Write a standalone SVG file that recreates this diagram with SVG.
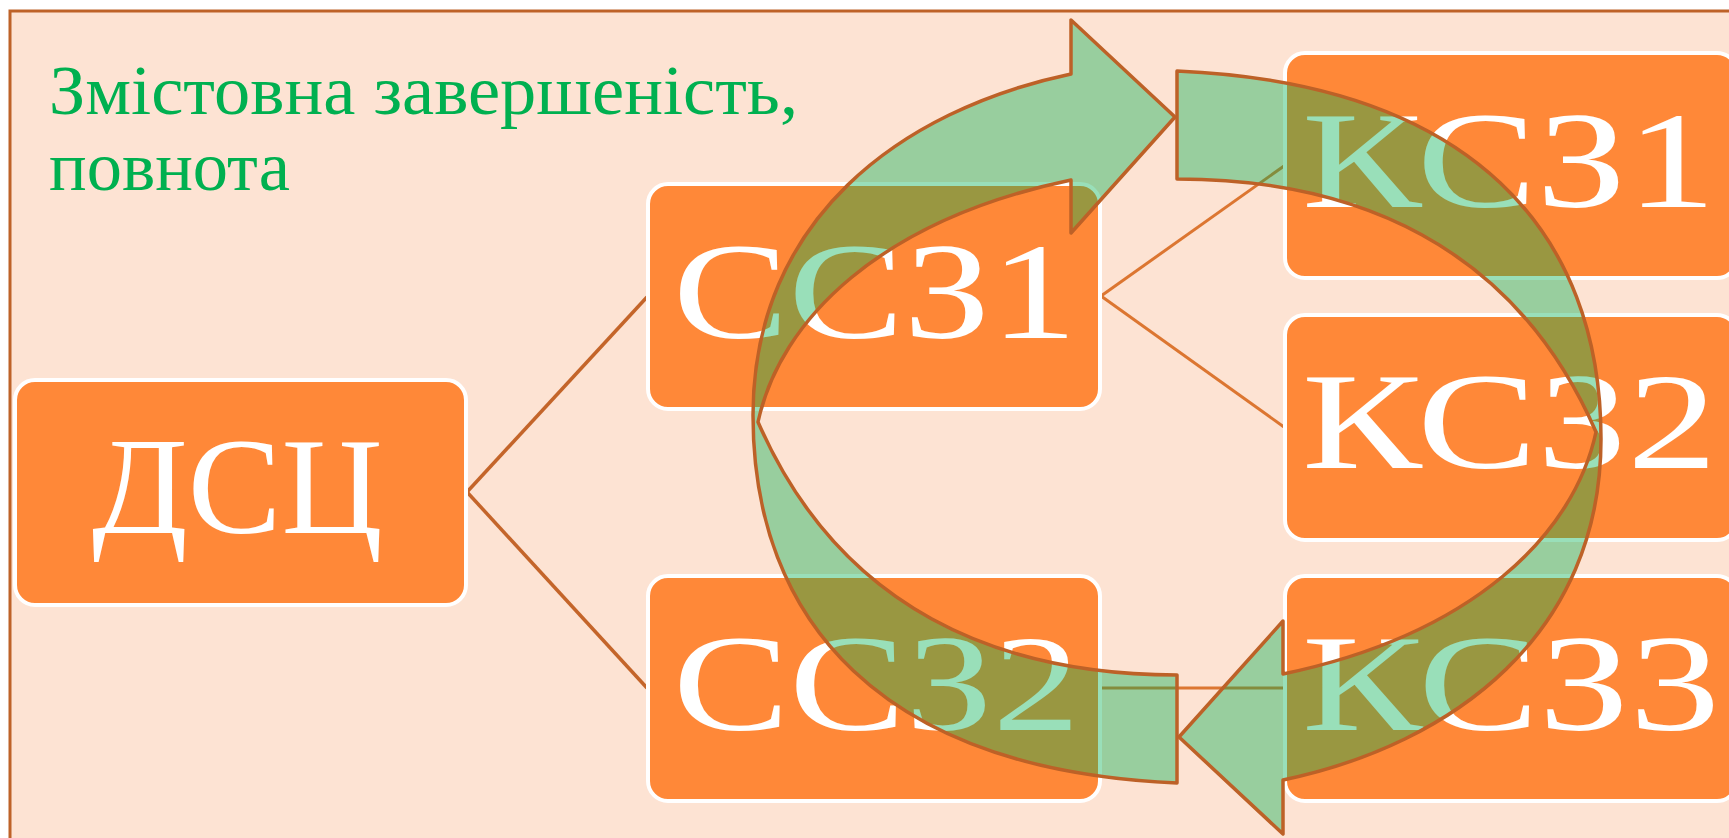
<svg xmlns="http://www.w3.org/2000/svg" width="1729" height="838" viewBox="0 0 1729 838">
  <style>
    .frame { fill: #FDE3D3; stroke: #BE6228; stroke-width: 3; }
    .title { font-family: "Liberation Serif", "DejaVu Serif", serif; font-size: 70px; fill: #00B050; }
    .box { fill: #FF8838; stroke: #FFFFFF; stroke-width: 4; }
    .lbl { font-family: "Liberation Serif", "DejaVu Serif", serif; font-size: 138px; fill: #FFFFFF; }
    .c1 { stroke: #C4652A; stroke-width: 3.5; fill: none; }
    .c2 { stroke: #DC7631; stroke-width: 3; fill: none; }
    .arrow { fill: #00B050; fill-opacity: 0.4; stroke: #BD6127; stroke-width: 3.5; stroke-linejoin: round; }
  </style>
  <defs>
    <path id="circArrow" d="M 1177,675 C 1000,675 840,610 758,422 C 780,320 880,220 1071,180 L 1071,233 L 1175,117 L 1071,20 L 1071,74 C 900,110 753,220 753,415 C 753,620 880,770 1177,783 Z"/>
  </defs>
  <rect width="1729" height="838" fill="#FFFFFF"/>
  <g id="background">
    <rect class="frame" x="10" y="11" width="1740" height="850"/>
    <text class="title" x="49" y="114" textLength="749" lengthAdjust="spacingAndGlyphs">Змістовна завершеність,</text>
    <text class="title" x="49" y="190" textLength="241" lengthAdjust="spacingAndGlyphs">повнота</text>
  </g>
  <g id="connectors">
    <line class="c1" x1="467" y1="492" x2="647" y2="297"/>
    <line class="c1" x1="467" y1="492" x2="647" y2="688"/>
    <line class="c2" x1="1101" y1="296" x2="1284" y2="166"/>
    <line class="c2" x1="1101" y1="296" x2="1284" y2="427"/>
    <line class="c2" x1="1101" y1="688" x2="1284" y2="688"/>
  </g>
  <g id="node-dsc">
    <rect class="box" x="15" y="380" width="451" height="225" rx="20"/>
    <text class="lbl" x="92" y="533" textLength="291" lengthAdjust="spacingAndGlyphs">ДСЦ</text>
  </g>
  <g id="node-ssz1">
    <rect class="box" x="648" y="184" width="452" height="225" rx="20"/>
    <text class="lbl" x="673" y="338" textLength="404" lengthAdjust="spacingAndGlyphs">ССЗ1</text>
  </g>
  <g id="node-ssz2">
    <rect class="box" x="648" y="576" width="452" height="225" rx="20"/>
    <text class="lbl" x="673" y="730" textLength="407" lengthAdjust="spacingAndGlyphs">ССЗ2</text>
  </g>
  <g id="node-ksz1">
    <rect class="box" x="1285" y="53" width="452" height="225" rx="20"/>
    <text class="lbl" x="1302" y="207" textLength="414" lengthAdjust="spacingAndGlyphs">КСЗ1</text>
  </g>
  <g id="node-ksz2">
    <rect class="box" x="1285" y="315" width="452" height="225" rx="20"/>
    <text class="lbl" x="1302" y="468" textLength="415" lengthAdjust="spacingAndGlyphs">КСЗ2</text>
  </g>
  <g id="node-ksz3">
    <rect class="box" x="1285" y="576" width="452" height="225" rx="20"/>
    <text class="lbl" x="1302" y="730" textLength="418" lengthAdjust="spacingAndGlyphs">КСЗ3</text>
  </g>
  <g id="cycle-arrows">
    <use href="#circArrow" class="arrow"/>
    <use href="#circArrow" class="arrow" transform="rotate(180 1177 427)"/>
  </g>
</svg>
